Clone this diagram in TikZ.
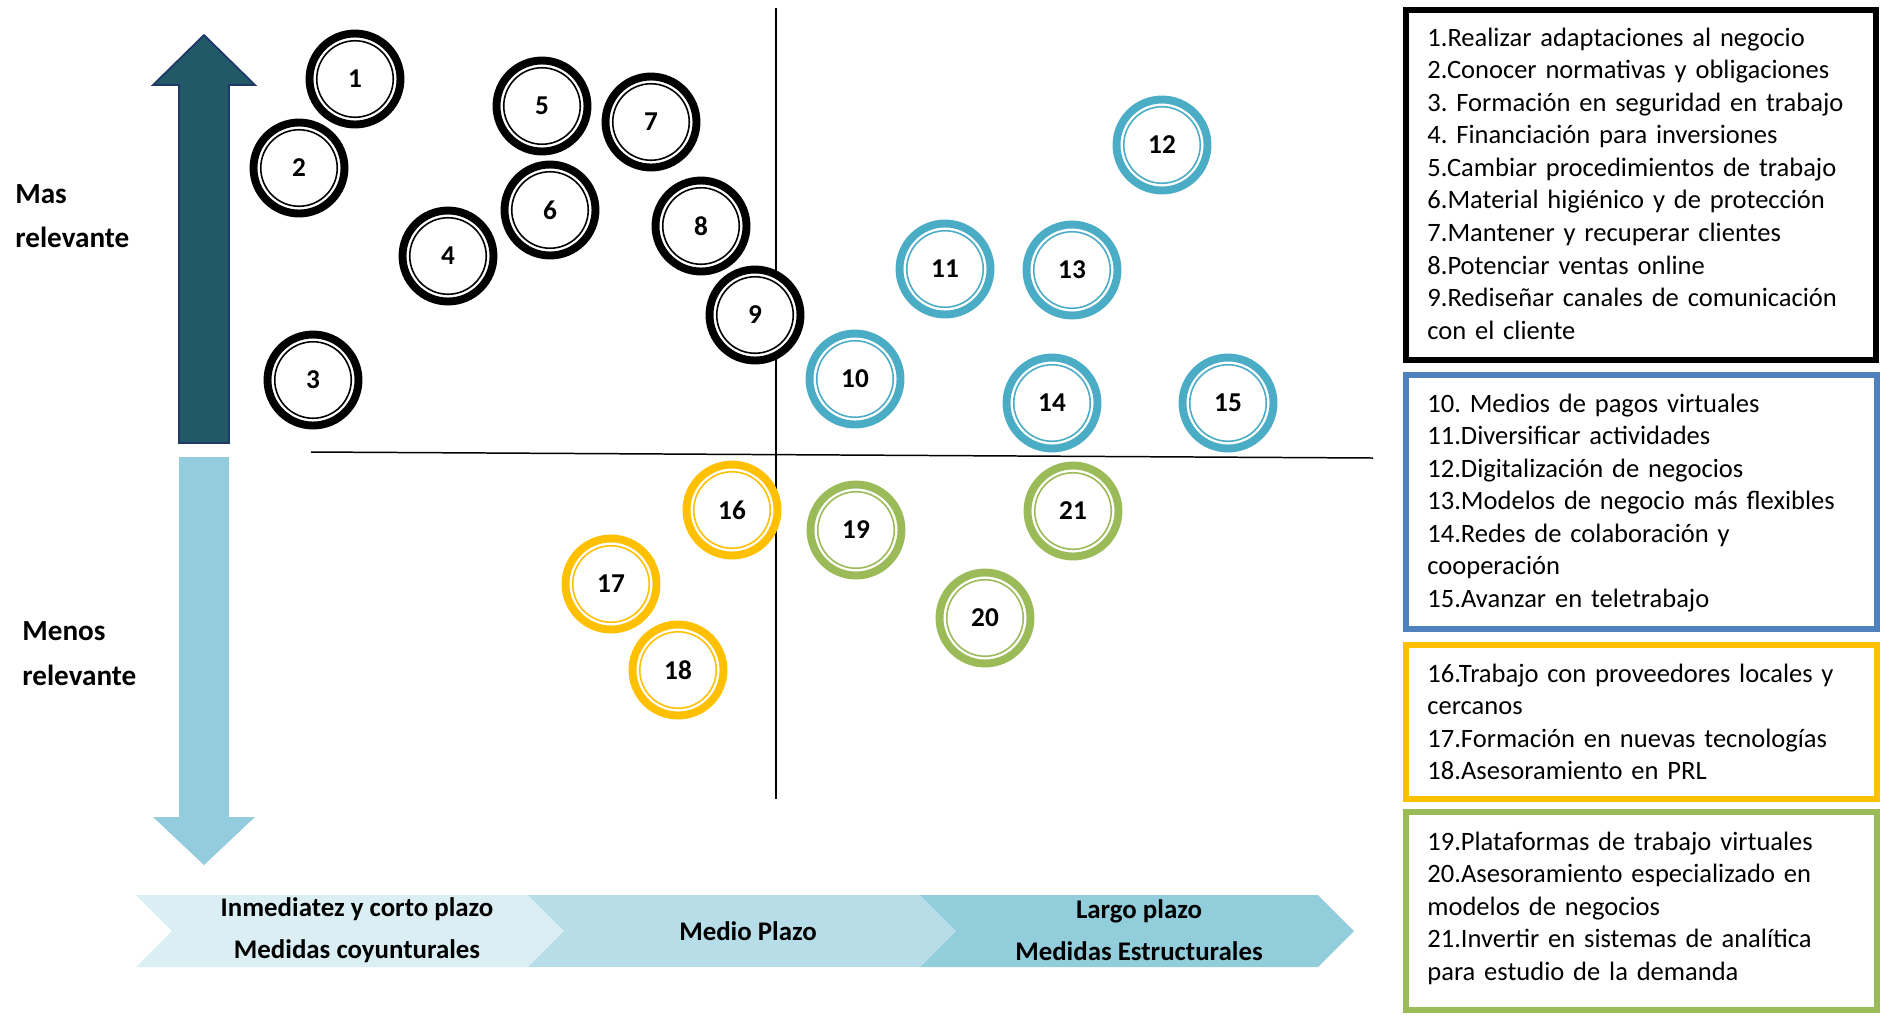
\documentclass[tikz,border=0pt]{standalone}
\usepackage{fontspec}
\setmainfont{Carlito}
\usepackage{xcolor}
\usepackage{tikz}
\usetikzlibrary{positioning, fit}
\frenchspacing
\definecolor{UpTeal}{HTML}{215968}
\definecolor{UpEdge}{HTML}{1F3864}
\definecolor{DownBlue}{HTML}{93CDDD}
\definecolor{BandA}{HTML}{DAEEF3}
\definecolor{BandB}{HTML}{B7DDE8}
\definecolor{BandC}{HTML}{92CDDC}
\definecolor{RingBlue}{HTML}{4BACC6}
\definecolor{RingGold}{HTML}{FFC000}
\definecolor{RingGreen}{HTML}{9BBB59}
\definecolor{BoxBlue}{HTML}{4F81BD}

\begin{document}
\begin{tikzpicture}[x=0.02cm, y=-0.02cm,
  ms/.style={circle, draw=#1, fill=white, line width=4.5pt,
    minimum size=1.82cm, inner sep=0pt,
    font=\bfseries\fontsize{15.5}{18}\selectfont,
    path picture={\draw[#1, line width=0.9pt]
      (path picture bounding box.center) circle (0.765cm);}},
  legbox/.style={draw=#1, line width=3.1pt, inner sep=0pt},
  legtext/.style={anchor=base west, inner sep=0pt, text width=9.3cm,
    align=left, font=\fontsize{15.1}{18.55}\selectfont},
  side/.style={anchor=base west, inner sep=0pt, text width=3cm,
    align=left, font=\bfseries\fontsize{16.6}{#1}\selectfont},
  band/.style={inner sep=0pt, align=center,
    font=\bfseries\fontsize{15.3}{23.8}\selectfont},
  axis/.style={line width=0.85pt}
]
\useasboundingbox (0,0) rectangle (1883,1015);

% relevance arrows
\filldraw[fill=UpTeal, draw=UpEdge, line width=1pt]
  (179,443) -- (179,85) -- (153,85) -- (204,35) -- (255,85) -- (229,85) -- (229,443) -- cycle;
\fill[DownBlue]
  (179,457) -- (229,457) -- (229,817) -- (255,817) -- (204,865) -- (153,817) -- (179,817) -- cycle;
\node[side=25.5pt] (mas) at (15,203) {Mas\\relevante};
\node[side=26pt] (menos) at (22,640) {Menos\\relevante};

% time bands
\fill[BandA] (136,895) -- (528,895) -- (564,931) -- (528,967) -- (136,967) -- (172,931) -- cycle;
\fill[BandB] (528,895) -- (920,895) -- (956,931) -- (920,967) -- (528,967) -- (564,931) -- cycle;
\fill[BandC] (920,895) -- (1318,895) -- (1354,931) -- (1318,967) -- (920,967) -- (956,931) -- cycle;
\node[band] (corto) at (357,930) {Inmediatez y corto plazo\\Medidas coyunturales};
\node[band] (medio) at (748,931) {Medio Plazo};
\node[band] (largo) at (1139,930) {Largo plazo\\Medidas Estructurales};

% quadrants
\coordinate (hl) at (311,452);
\coordinate (hr) at (1373,458);
\coordinate (vt) at (776,8);
\coordinate (vb) at (776,799);
\draw[axis] (hl) -- (hr);
\draw[axis] (vt) -- (vb);

\node[ms=black] (m1) at (355,79) {1};
\node[ms=black] (m2) at (299,168) {2};
\node[ms=black] (m3) at (313,380) {3};
\node[ms=black] (m4) at (448,256) {4};
\node[ms=black] (m5) at (542,106) {5};
\node[ms=black] (m6) at (550,210) {6};
\node[ms=black] (m7) at (651,122) {7};
\node[ms=black] (m8) at (701,226) {8};
\node[ms=black] (m9) at (755,315) {9};
\node[ms=RingBlue] (m10) at (855,379) {10};
\node[ms=RingBlue] (m11) at (945,269) {11};
\node[ms=RingBlue] (m12) at (1162,145) {12};
\node[ms=RingBlue] (m13) at (1072,270) {13};
\node[ms=RingBlue] (m14) at (1052,403) {14};
\node[ms=RingBlue] (m15) at (1228,403) {15};
\node[ms=RingGold] (m16) at (732,510) {16};
\node[ms=RingGold] (m17) at (611,584) {17};
\node[ms=RingGold] (m18) at (678,670) {18};
\node[ms=RingGreen] (m19) at (856,530) {19};
\node[ms=RingGreen] (m20) at (985,618) {20};
\node[ms=RingGreen] (m21) at (1073,511) {21};

% legend
\node[legbox=black, line width=3.4pt, fit={(1406,10) (1876,360)}] (box1) {};
\node[legbox=BoxBlue, fit={(1406,375) (1877,629)}] (box2) {};
\node[legbox=RingGold, fit={(1406,645) (1877,799)}] (box3) {};
\node[legbox=RingGreen, fit={(1406,812) (1877,1010)}] (box4) {};
\node[legtext] (leg1) at (1427,46) {1.Realizar adaptaciones al negocio\\
  2.Conocer normativas y obligaciones\\
  3. Formación en seguridad en trabajo\\
  4. Financiación para inversiones\\
  5.Cambiar procedimientos de trabajo\\
  6.Material higiénico y de protección\\
  7.Mantener y recuperar clientes\\
  8.Potenciar ventas online\\
  9.Rediseñar canales de comunicación\\
  con el cliente};
\node[legtext] (leg2) at (1427,412) {10. Medios de pagos virtuales\\
  11.Diversificar actividades\\
  12.Digitalización de negocios\\
  13.Modelos de negocio más flexibles\\
  14.Redes de colaboración y\\
  cooperación\\
  15.Avanzar en teletrabajo};
\node[legtext] (leg3) at (1427,682) {16.Trabajo con proveedores locales y\\
  cercanos\\
  17.Formación en nuevas tecnologías\\
  18.Asesoramiento en PRL};
\node[legtext] (leg4) at (1427,850) {19.Plataformas de trabajo virtuales\\
  20.Asesoramiento especializado en\\
  modelos de negocios\\
  21.Invertir en sistemas de analítica\\
  para estudio de la demanda};
\end{tikzpicture}
\end{document}
